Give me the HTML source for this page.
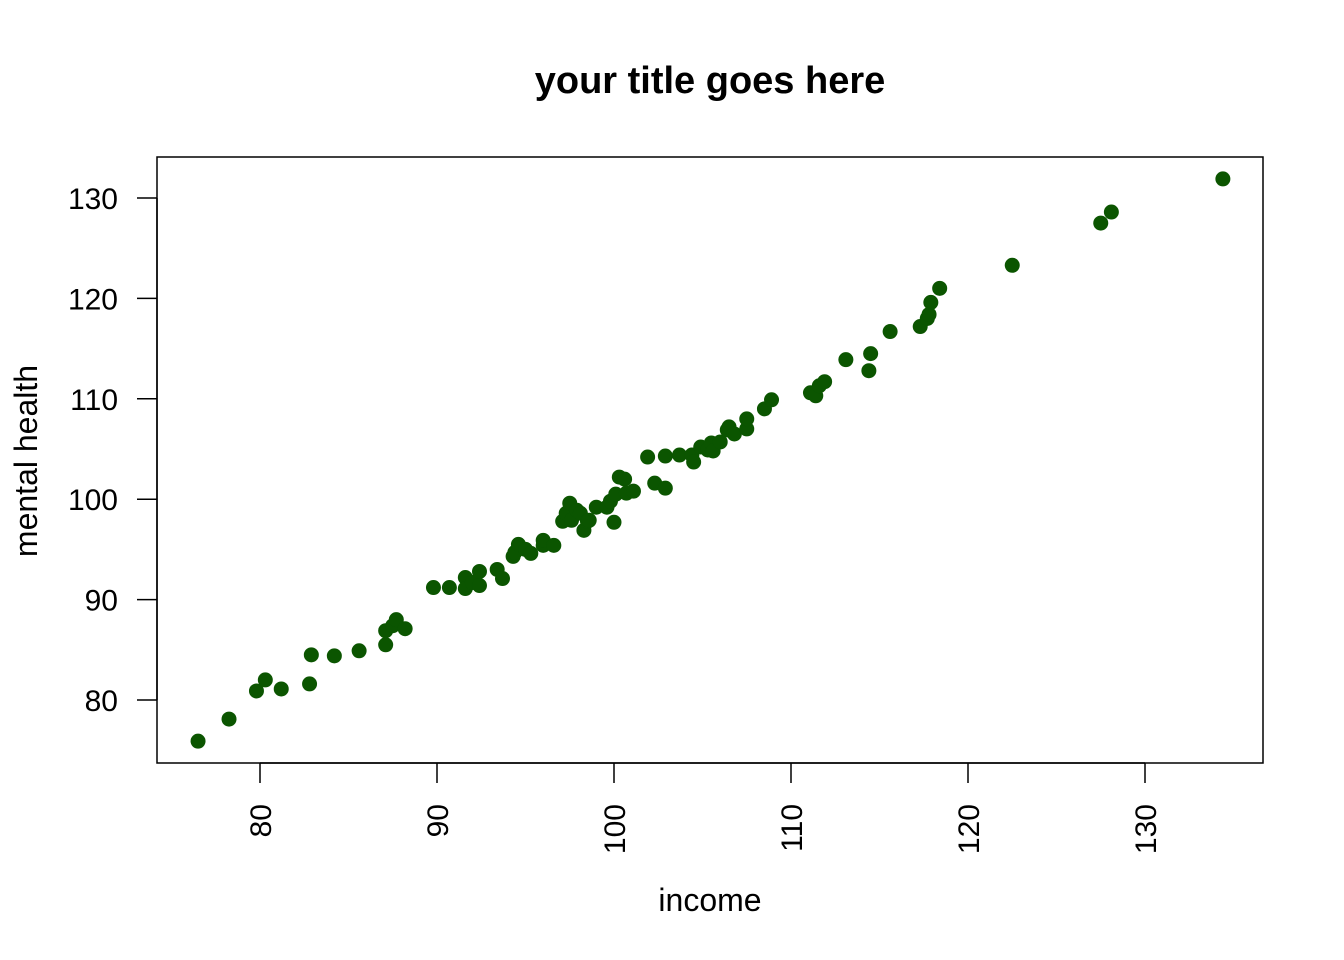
<!DOCTYPE html>
<html><head><meta charset="utf-8"><style>
html,body{margin:0;padding:0;background:#fff}
svg{display:block;font-family:"Liberation Sans",Arial,sans-serif}
</style></head><body>
<svg id="chart" width="1344" height="960"></svg>
<script>
const incomeValues=[76.5,78.25,79.8,80.3,81.2,82.9,82.8,84.2,85.6,87.1,87.1,87.5,87.7,88.2,89.8,90.7,91.6,91.6,92.0,92.4,92.4,93.4,93.7,94.3,94.4,94.6,95.0,95.3,96.0,96.0,96.6,97.1,97.3,97.5,97.6,97.9,98.1,98.3,98.5,98.6,99.0,99.6,99.8,100.0,100.1,100.3,100.6,100.7,101.1,101.9,102.3,102.9,102.9,103.7,104.4,104.5,104.9,105.3,105.5,105.6,106.0,106.4,106.5,106.8,107.5,107.5,108.5,108.9,111.1,111.4,111.6,111.9,113.1,114.4,114.5,115.6,117.3,117.7,117.8,117.9,118.4,122.5,127.5,128.1,134.4];
const healthValues=[75.9,78.1,80.9,82.0,81.1,84.5,81.6,84.4,84.9,85.5,86.9,87.4,88.0,87.1,91.2,91.2,92.2,91.1,91.7,92.8,91.4,93.0,92.1,94.3,94.7,95.5,95.0,94.6,95.4,95.9,95.4,97.8,98.6,99.6,97.9,98.9,98.6,96.9,97.8,97.9,99.2,99.2,99.8,97.7,100.5,102.2,102.0,100.6,100.8,104.2,101.6,101.1,104.3,104.4,104.4,103.7,105.2,104.9,105.6,104.8,105.7,106.9,107.2,106.5,107.0,108.0,109.0,109.9,110.6,110.3,111.3,111.7,113.9,112.8,114.5,116.7,117.2,118.0,118.4,119.6,121.0,123.3,127.5,128.6,131.9];
const xTicks=[80,90,100,110,120,130];
const yTicks=[80,90,100,110,120,130];
const NS="http://www.w3.org/2000/svg";
const svg=document.getElementById('chart');
const X=v=>260+(v-80)*17.7;
const Y=v=>700-(v-80)*10.04;
function mk(tag,attrs,parent){const e=document.createElementNS(NS,tag);for(const k in attrs)e.setAttribute(k,attrs[k]);(parent||svg).appendChild(e);return e;}
let t=mk('text',{x:710,y:93,'text-anchor':'middle','font-size':38,'font-weight':'bold'});t.textContent='your title goes here';


let box=mk('rect',{x:157,y:157,width:1106,height:606,fill:'none',stroke:'#000','stroke-width':1.5});


let xa=mk('line',{x1:X(80),x2:X(130),y1:763,y2:763,stroke:'#000','stroke-width':1.5});


xTicks.forEach(v=>{
 let l=mk('line',{x1:X(v),x2:X(v),y1:763,y2:783,stroke:'#000','stroke-width':1.5});
 
 
 let tx=mk('text',{x:0,y:0,'text-anchor':'end','font-size':30,transform:`translate(${X(v)+11},804) rotate(-90)`});
 tx.textContent=v;
 
 
});
let ya=mk('line',{x1:157,x2:157,y1:Y(80),y2:Y(130),stroke:'#000','stroke-width':1.5});


yTicks.forEach(v=>{
 let l=mk('line',{x1:137,x2:157,y1:Y(v),y2:Y(v),stroke:'#000','stroke-width':1.5});
 
 
 let tx=mk('text',{x:118,y:Y(v)+11,'text-anchor':'end','font-size':30});
 tx.textContent=v;
 
 
});
let xl=mk('text',{x:710,y:911,'text-anchor':'middle','font-size':32});xl.textContent='income';


let yl=mk('text',{x:0,y:0,'text-anchor':'middle','font-size':32,transform:'translate(37,461) rotate(-90)'});yl.textContent='mental health';


incomeValues.forEach((v,i)=>{
 let c=mk('circle',{cx:X(v),cy:Y(healthValues[i]),r:7.5,fill:'#0b5500'});
 
 
});
</script>
</body></html>
